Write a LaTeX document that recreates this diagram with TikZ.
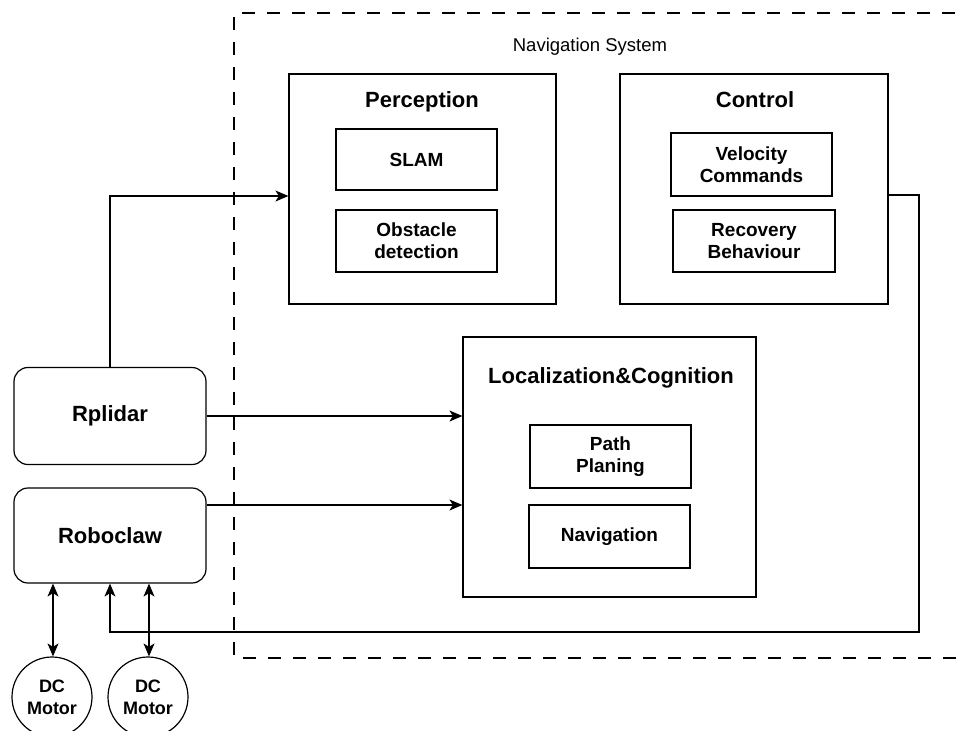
\documentclass[tikz,border=0pt]{standalone}
\usepackage{fontspec}
\setmainfont{Liberation Sans}
\usetikzlibrary{arrows.meta}
\tikzset{
  frame/.style={draw, line width=1.2pt, inner sep=0pt},
  sub/.style={draw, line width=1.2pt, inner sep=0pt, align=center,
    minimum width=161pt, font=\bfseries\fontsize{19}{22}\selectfont},
  ttl/.style={font=\bfseries\fontsize{22}{26}\selectfont, inner sep=0pt},
  dev/.style={draw, line width=1.2pt, rounded corners=14pt, minimum width=192pt,
    font=\bfseries\fontsize{22}{26}\selectfont},
  motor/.style={draw, circle, line width=1.2pt, minimum size=80pt, inner sep=0pt,
    align=center, font=\bfseries\fontsize{18}{22}\selectfont},
  arr/.style={line width=1.2pt, -{Stealth[length=13pt,width=11pt,inset=3.5pt]}},
  darr/.style={line width=1.2pt, {Stealth[length=13pt,width=11pt,inset=3.5pt]}-{Stealth[length=13pt,width=11pt,inset=3.5pt]}},
  dashbox/.style={line width=1.2pt, dash pattern=on 13pt off 12pt}
}
\begin{document}
\begin{tikzpicture}[x=1pt,y=-1pt]
\useasboundingbox (0,0) rectangle (956,731);
\clip (0,0) rectangle (956,731);
\fill[white] (0,0) rectangle (956,731);
% navigation system boundary
\draw[dashbox] (980,13) -- (234,13) -- (234,658) -- (980,658);
\node[font=\fontsize{18.5}{22}\selectfont, inner sep=0pt] (navsys) at (590,47) {Navigation System};
% Perception
\node[frame, minimum width=267pt, minimum height=230pt] (perc) at (422.5,189) {};
\node[ttl] (perct) at (422,102) {Perception};
\node[sub, minimum height=61pt] (slam) at (416.5,159.5) {SLAM};
\node[sub, minimum height=62pt] (obst) at (416.5,241) {Obstacle\\detection};
% Control
\node[frame, minimum width=268pt, minimum height=230pt] (ctrl) at (754,189) {};
\node[ttl] (ctrlt) at (755,100) {Control};
\node[sub, minimum height=63pt] (velo) at (751.5,164.5) {Velocity\\Commands};
\node[sub, minimum width=162pt, minimum height=62pt] (reco) at (754,241) {Recovery\\Behaviour};
% Localization & Cognition
\node[frame, minimum width=293pt, minimum height=260pt] (loc) at (609.5,467) {};
\node[ttl] (loct) at (611,378) {Localization\&Cognition};
\node[sub, minimum height=63pt] (path) at (610.5,456.5) {Path\\Planing};
\node[sub, minimum height=63pt] (navi) at (609.5,536.5) {Navigation};
% devices
\node[dev, minimum height=97pt] (rp) at (110,416) {Rplidar};
\node[dev, minimum height=95pt] (rc) at (110,535.5) {Roboclaw};
\node[motor] (m1) at (52,697) {DC\\Motor};
\node[motor] (m2) at (148,697) {DC\\Motor};
% connectors
\draw[arr] (rp.north) |- ([yshift=-7pt]perc.west);
\draw[arr] (rp.east) -- (rp.east -| loc.west);
\path ([yshift=30.5pt]rc.east) coordinate (rcout);
\draw[arr] (rcout) -- (rcout -| loc.west);
\coordinate (fbcorner) at (919,632);
\draw[arr] ([yshift=-6pt]ctrl.east) -| (fbcorner) -| (rc.south);
\draw[darr] ([xshift=1pt]m1.north) -- ([xshift=1pt]m1.north |- rc.south);
\draw[darr] ([xshift=1pt]m2.north) -- ([xshift=1pt]m2.north |- rc.south);
\end{tikzpicture}
\end{document}
